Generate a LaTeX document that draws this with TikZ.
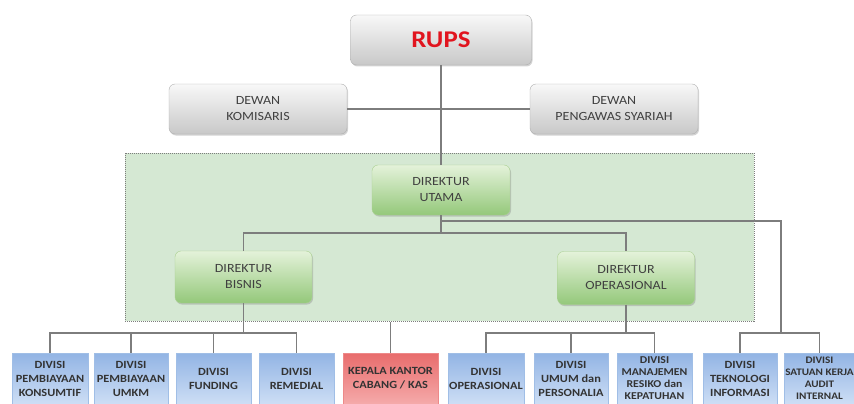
\documentclass[tikz,border=0pt]{standalone}
\usepackage{fontspec}
\setmainfont{Carlito}[FakeStretch=1.12]
\usetikzlibrary{shadows}

\definecolor{greytop}{RGB}{248,248,248}
\definecolor{greybot}{RGB}{200,200,200}
\definecolor{greyline}{RGB}{175,175,175}
\definecolor{greentop}{RGB}{228,242,218}
\definecolor{greenbot}{RGB}{148,200,122}
\definecolor{greenline}{RGB}{170,208,145}
\definecolor{greenback}{RGB}{213,232,211}
\definecolor{bluetop}{RGB}{146,180,228}
\definecolor{bluebot}{RGB}{205,222,245}
\definecolor{blueline}{RGB}{160,190,230}
\definecolor{redtop}{RGB}{232,108,108}
\definecolor{redbot}{RGB}{245,170,170}
\definecolor{rupsred}{RGB}{225,20,30}
\definecolor{linegray}{RGB}{125,125,125}

\begin{document}
\begin{tikzpicture}[x=1pt,y=-1pt,
		greybox/.style={draw=greyline,rounded corners=6pt,top color=greytop,bottom color=greybot,
			drop shadow={shadow xshift=1pt,shadow yshift=-1.5pt,opacity=0.35},
			align=center,text=black!75,font=\fontsize{12.5}{16}\selectfont,
			minimum height=50pt,inner sep=2pt},
		greenbox/.style={greybox,draw=greenline,top color=greentop,bottom color=greenbot},
		divisi/.style={draw=blueline,top color=bluetop,bottom color=bluebot,
			align=center,text=black!80,minimum height=51pt,inner sep=1pt},
		link/.style={draw=linegray,line width=1.3pt}]
	
	\useasboundingbox (0,0) rectangle (854,404);
	
	%hintergrund direksi
	\node[draw=linegray,densely dotted,line width=1pt,fill=greenback,
		minimum width=629pt,minimum height=168pt] (bg) at (439.5,237) {};
	
	%obere ebene
	\node[greybox,minimum width=181pt,font=\bfseries\fontsize{24}{28}\selectfont,text=rupsred] (rups) at (441,40) {RUPS};
	\node[greybox,minimum width=178pt] (kom) at (258,109) {DEWAN\\KOMISARIS};
	\node[greybox,minimum width=168pt] (dps) at (614,109) {DEWAN\\PENGAWAS SYARIAH};
	
	%direksi
	\node[greenbox,minimum width=138pt] (utama) at (441,190) {DIREKTUR\\UTAMA};
	\node[greenbox,minimum width=137pt,minimum height=52pt] (bisnis) at (243.5,277) {DIREKTUR\\BISNIS};
	\node[greenbox,minimum width=137pt,minimum height=53pt] (oper) at (626,278) {DIREKTUR\\OPERASIONAL};
	
	%divisi
	\foreach \nr/\xc/\breite/\gr/\zab/\beschr in {
		1/50/76/11/14/{DIVISI\\PEMBIAYAAN\\KONSUMTIF},
		2/131/74/11/14/{DIVISI\\PEMBIAYAAN\\UMKM},
		3/213.5/75/11/14/{DIVISI\\FUNDING},
		4/296.5/75/11/14/{DIVISI\\REMEDIAL},
		6/486/76/11/14/{DIVISI\\OPERASIONAL},
		7/571/74/11/14/{DIVISI\\UMUM dan\\PERSONALIA},
		8/654.5/75/10.5/12/{DIVISI\\MANAJEMEN\\RESIKO dan\\KEPATUHAN},
		9/740/74/11/14/{DIVISI\\TEKNOLOGI\\INFORMASI},
		10/819.5/69/10/12/{DIVISI\\SATUAN KERJA\\AUDIT\\INTERNAL}}
	\node[divisi,minimum width=\breite pt,font=\bfseries\fontsize{\gr}{\zab}\selectfont] (d\nr) at (\xc,378.5) {\beschr};
	
	\node[divisi,draw=redtop!80,top color=redtop,bottom color=redbot,minimum width=95pt,
		font=\bfseries\fontsize{11}{14}\selectfont] (d5) at (390.5,378.5) {KEPALA KANTOR\\CABANG / KAS};
	
	%verbindungen
	\coordinate (ut-r) at (441,221);
	\coordinate (bus-d) at (441,233);
	\coordinate (bus-b) at (243.5,333);
	\coordinate (bus-o) at (626,333);
	\coordinate (bus-r) at (781,333);
	
	\draw[link] (rups.south) -- (utama.north);
	\draw[link] (kom.east) -- (dps.west);
	\draw[link] (utama.south) -- (bus-d);
	\draw[link] (bisnis.north) |- (bus-d) -| (oper.north);
	\draw[link] (ut-r) -| (bus-r);
	\draw[link] (bisnis.south) -- (bus-b);
	\draw[link] (oper.south) -- (bus-o);
	\foreach \i in {1,2,3,4}
	\draw[link] (d\i.north) |- (bus-b);
	\foreach \i in {6,7,8}
	\draw[link] (d\i.north) |- (bus-o);
	\foreach \i in {9,10}
	\draw[link] (d\i.north) |- (bus-r);
	\draw[link] (d5.north) -- (d5.north |- bg.south);
	
\end{tikzpicture}
\end{document}
